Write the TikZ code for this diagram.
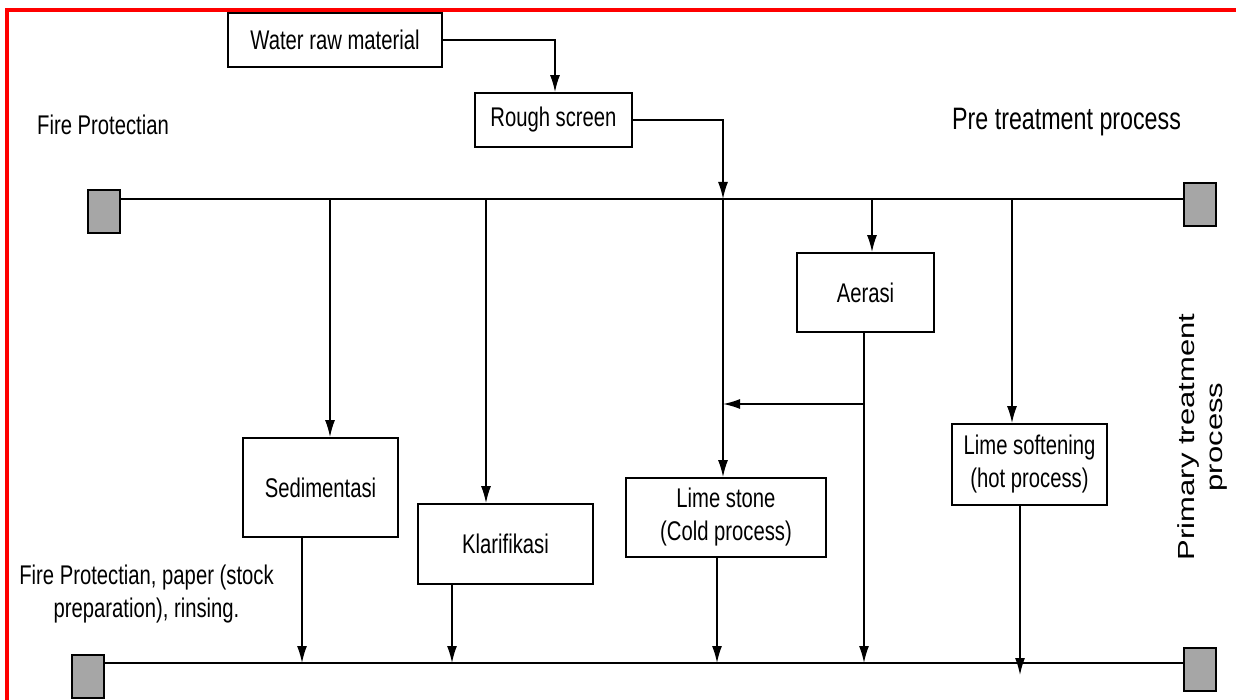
\documentclass[tikz,border=0pt]{standalone}
\usepackage{fontspec}
\setmainfont{Liberation Sans}[FakeStretch=0.75]
\newfontfamily\widefont{Liberation Sans}
\usetikzlibrary{arrows.meta, positioning}
\definecolor{frame}{RGB}{255,0,0}
\definecolor{tank}{RGB}{166,166,166}

\begin{document}
\begin{tikzpicture}[
  x=1pt, y=-1pt,
  box/.style={draw, line width=1.8pt, align=center, inner sep=0pt,
              font=\fontsize{27}{33}\selectfont},
  tankbox/.style={draw, line width=2pt, fill=tank, minimum width=32pt,
                  minimum height=43pt, inner sep=0pt},
  lbl/.style={font=\fontsize{27}{33}\selectfont, align=center, inner sep=0pt},
  bus/.style={line width=1.5pt},
  arr/.style={-{Latex[length=17pt,width=10pt]}, line width=1.5pt},
]
  \useasboundingbox (0,0) rectangle (1236,700);
  \draw[frame, line width=4pt] (7,700) -- (7,10) -- (1236,10);

  % process units
  \node[box, minimum width=214pt, minimum height=54pt] (water) at (335,40) {Water raw material};
  \node[box, minimum width=157pt, minimum height=54pt] (rough) at (553.5,120) {Rough screen};
  \node[box, minimum width=137pt, minimum height=79pt] (aerasi) at (865.5,292.5) {Aerasi};
  \node[box, minimum width=155pt, minimum height=99pt] (sedim) at (320.5,487.5) {Sedimentasi};
  \node[box, minimum width=175pt, minimum height=80pt] (klarif) at (505.5,544) {Klarifikasi};
  \node[box, minimum width=200pt, minimum height=79pt] (stone) at (726,517.5) {Lime stone\\(Cold process)};
  \node[box, minimum width=155pt, minimum height=81pt] (soften) at (1029.5,464.5) {Lime softening\\(hot process)};

  % tanks at the ends of the two headers
  \node[tankbox] (tankTL) at (103.5,212) {};
  \node[tankbox] (tankTR) at (1199.5,204.5) {};
  \node[tankbox] (tankBL) at (88,676.5) {};
  \node[tankbox] (tankBR) at (1199.5,669) {};

  % labels
  \node[lbl, anchor=base west] (fire) at (37,135) {Fire Protectian};
  \node[lbl, anchor=base west, font=\fontsize{31}{37}\selectfont] (pre) at (952,130) {Pre treatment process};
  \node[lbl] (paper) at (146.5,594) {Fire Protectian, paper (stock\\preparation), rinsing.};
  \node[rotate=90, inner sep=0pt] (primary) at (1203,437)
    {\scalebox{1}[0.75]{\widefont\fontsize{31}{37}\selectfont
     \begin{tabular}{@{}c@{}}Primary treatment\\process\end{tabular}}};

  % headers
  \coordinate (topbus) at (0,199);
  \coordinate (botbus) at (0,663);
  \draw[bus] (tankTL.east |- topbus) -- (tankTR.west |- topbus);
  \draw[bus] (tankBL.east |- botbus) -- (tankBR.west |- botbus);

  % inlets and outlets
  \coordinate (sedIn) at ([xshift=9.5pt]sedim.north);
  \coordinate (sedOut) at ([xshift=-18.5pt]sedim.south);
  \coordinate (klaIn) at ([xshift=-19.5pt]klarif.north);
  \coordinate (klaOut) at ([xshift=-53.5pt]klarif.south);
  \coordinate (stoneIn) at ([xshift=-3pt]stone.north);
  \coordinate (stoneOut) at ([xshift=-9pt]stone.south);
  \coordinate (aerIn) at ([xshift=6.5pt]aerasi.north);
  \coordinate (aerOut) at ([xshift=-1.5pt]aerasi.south);
  \coordinate (softIn) at ([xshift=-17.5pt]soften.north);
  \coordinate (softOut) at ([xshift=-9.5pt]soften.south);
  \coordinate (mix) at (864,404);
  \coordinate (softEnd) at (1020,675);

  \draw[arr] (water.east) -| ([xshift=1.5pt]rough.north);
  \draw[arr] (rough.east) -| (stoneIn |- topbus);
  \draw[arr] (stoneIn |- topbus) -- (stoneIn);
  \draw[arr] (sedIn |- topbus) -- (sedIn);
  \draw[arr] (klaIn |- topbus) -- (klaIn);
  \draw[arr] (aerIn |- topbus) -- (aerIn);
  \draw[arr] (softIn |- topbus) -- (softIn);
  \draw[arr] (mix) -- (mix -| stoneIn);
  \draw[arr] (sedOut) -- (sedOut |- botbus);
  \draw[arr] (klaOut) -- (klaOut |- botbus);
  \draw[arr] (stoneOut) -- (stoneOut |- botbus);
  \draw[arr] (aerOut) -- (aerOut |- botbus);
  \draw[arr] (softOut) -- (softEnd);
\end{tikzpicture}
\end{document}
